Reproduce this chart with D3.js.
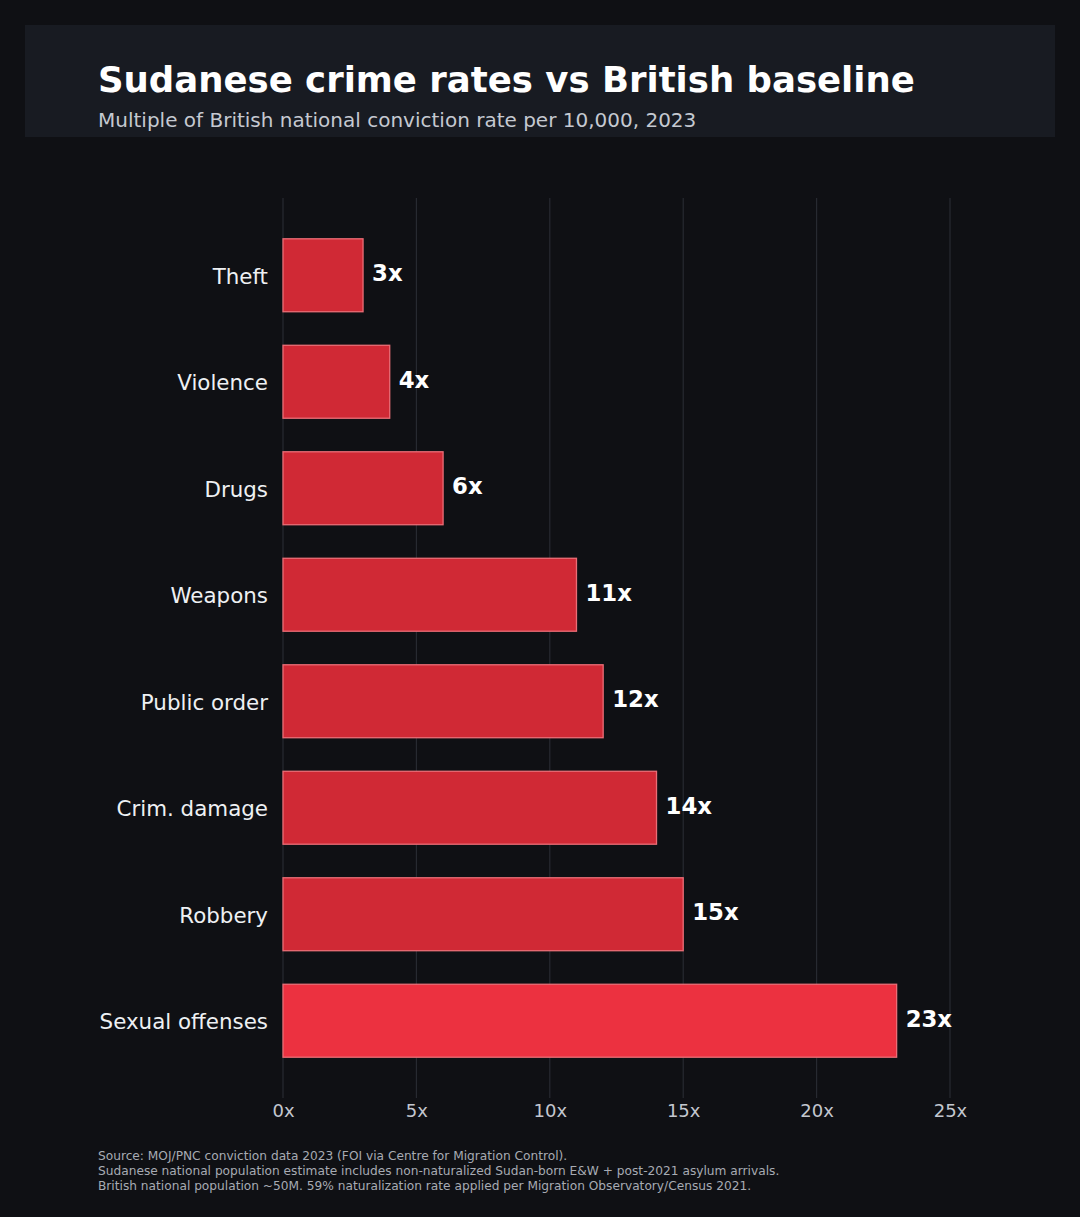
<!DOCTYPE html>
<html>
<head>
<meta charset="utf-8">
<script src="https://cdn.jsdelivr.net/npm/d3@7"></script>
<style>
  html, body { margin: 0; padding: 0; background: #0f1014; }
  svg { display: block; font-family: "DejaVu Sans", sans-serif; }
</style>
</head>
<body>
<div id="chart"></div>
<script>
// chart data
var categories = ["Theft", "Violence", "Drugs", "Weapons", "Public order", "Crim. damage", "Robbery", "Sexual offenses"];
var multiples = [3, 4, 6, 11, 12, 14, 15, 23];
var tickValues = [0, 5, 10, 15, 20, 25];
var title = "Sudanese crime rates vs British baseline";
var subtitle = "Multiple of British national conviction rate per 10,000, 2023";
var footnotes = [
  "Source: MOJ/PNC conviction data 2023 (FOI via Centre for Migration Control).",
  "Sudanese national population estimate includes non-naturalized Sudan-born E&W + post-2021 asylum arrivals.",
  "British national population ~50M. 59% naturalization rate applied per Migration Observatory/Census 2021."
];

var W = 1080, H = 1217;
var svg = d3.select("#chart").append("svg").attr("width", W).attr("height", H);

svg.append("rect").attr("width", W).attr("height", H).attr("fill", "#0f1014");

// header panel
svg.append("rect")
  .attr("x", 25).attr("y", 25).attr("width", 1030).attr("height", 112)
  .attr("fill", "#181b22");
svg.append("text")
  .attr("x", 98).attr("y", 92)
  .attr("fill", "#ffffff").attr("font-size", 35.5).attr("font-weight", "bold")
  .text(title);
svg.append("text")
  .attr("x", 98).attr("y", 127)
  .attr("fill", "#c5c9d1").attr("font-size", 20)
  .text(subtitle);

var data = categories.map(function(c, i) {
  return { name: c, value: multiples[i] };
});

var x = d3.scaleLinear().domain([0, 25]).range([283, 950]);
var y = d3.scaleBand()
  .domain(categories)
  .range([198, 1098])
  .paddingInner(0.315)
  .paddingOuter(0.383);

// gridlines
svg.append("g")
  .selectAll("line")
  .data(tickValues)
  .enter()
  .append("line")
  .attr("x1", function(d) { return x(d); })
  .attr("x2", function(d) { return x(d); })
  .attr("y1", 198).attr("y2", 1098)
  .attr("stroke", "#272a31").attr("stroke-width", 1.2);

// x axis
var xAxis = svg.append("g")
  .attr("transform", "translate(0,1098)")
  .call(d3.axisBottom(x).tickValues(tickValues).tickSize(0).tickPadding(6)
    .tickFormat(function(d) { return d + "x"; }));
xAxis.select(".domain").remove();
xAxis.selectAll("text")
  .attr("fill", "#c3c7cf").attr("font-size", 18)
  .attr("font-family", "DejaVu Sans, sans-serif");

// bars
var last = d3.max(multiples);
svg.append("g")
  .selectAll("rect")
  .data(data)
  .enter()
  .append("rect")
  .attr("x", x(0))
  .attr("y", function(d) { return y(d.name); })
  .attr("width", function(d) { return x(d.value) - x(0); })
  .attr("height", y.bandwidth())
  .attr("fill", function(d) { return d.value === last ? "#ec3140" : "#d02935"; })
  .attr("stroke", "#ea6d76").attr("stroke-width", 1.3);

// category labels
svg.append("g")
  .selectAll("text")
  .data(data)
  .enter()
  .append("text")
  .attr("x", 268)
  .attr("y", function(d) { return y(d.name) + y.bandwidth() / 2 + 1; })
  .attr("dy", "0.35em")
  .attr("text-anchor", "end")
  .attr("fill", "#eef0f3").attr("font-size", 21.4)
  .text(function(d) { return d.name; });

// value labels
svg.append("g")
  .selectAll("text")
  .data(data)
  .enter()
  .append("text")
  .attr("x", function(d) { return x(d.value) + 9; })
  .attr("y", function(d) { return y(d.name) + y.bandwidth() / 2 - 2; })
  .attr("dy", "0.35em")
  .attr("fill", "#ffffff").attr("font-size", 22.8).attr("font-weight", "bold")
  .text(function(d) { return d.value + "x"; });

// footnotes
svg.append("g")
  .selectAll("text")
  .data(footnotes)
  .enter()
  .append("text")
  .attr("x", 98)
  .attr("y", function(d, i) { return 1160 + i * 15; })
  .attr("fill", "#a7abb3").attr("font-size", 12.2)
  .text(function(d) { return d; });
</script>
</body>
</html>
